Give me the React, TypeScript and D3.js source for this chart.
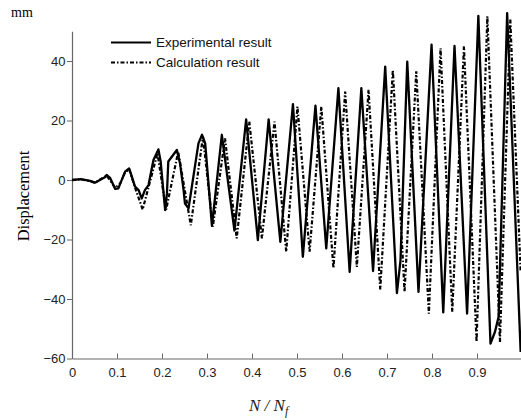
import React, { useEffect, useRef } from 'react';
import * as d3 from 'd3';

const xTickValues = [0, 0.1, 0.2, 0.3, 0.4, 0.5, 0.6, 0.7, 0.8, 0.9];
const yTickValues = [-60, -40, -20, 0, 20, 40];

// experimental curve (N/Nf, mm)
const expN = [
  0, 0.02, 0.04, 0.051, 0.073, 0.077, 0.085, 0.096, 0.103, 0.107, 0.118, 0.127, 0.133, 0.14, 0.148, 0.155,
  0.162, 0.17, 0.181, 0.192, 0.197, 0.207, 0.211, 0.214, 0.233, 0.24, 0.248, 0.251, 0.259, 0.281, 0.289,
  0.296, 0.311, 0.333, 0.361, 0.387, 0.413, 0.437, 0.463, 0.491, 0.513, 0.541, 0.565, 0.592, 0.617, 0.643,
  0.669, 0.696, 0.722, 0.73, 0.745, 0.77, 0.799, 0.825, 0.85, 0.878, 0.903, 0.93, 0.94, 0.948, 0.967, 0.997,
];
const expDisp = [
  0, 0.3, -0.3, -0.9, 0.9, 1.7, 0.6, -3, -2.8, -1.3, 2.8, 3.9, 1.1, -2.2, -3.4, -6.2,
  -3.4, -1.7, 6.7, 10.3, 6.2, -10.1, -4.5, 6.2, 10.1, 5.6, -3.4, -7.9, -9.5, 12.3, 15.2,
  12.3, -15.4, 15.2, -17, 20.4, -20.2, 20.4, -20.8, 25.5, -25.8, 25, -23, 30.9, -30.9, 30.9,
  -30.6, 38.1, -38, -27, 39.8, -37.6, 45.5, -44.5, 45.1, -44.9, 55.2, -55, -51, -46, 56.1, -57.8,
];

// calculation curve
const calcN = [
  0, 0.02, 0.04, 0.051, 0.077, 0.096, 0.107, 0.118, 0.127, 0.14, 0.157, 0.19, 0.209, 0.236, 0.264,
  0.291, 0.313, 0.34, 0.366, 0.394, 0.422, 0.45, 0.476, 0.501, 0.528, 0.554, 0.581, 0.607, 0.633, 0.659,
  0.685, 0.713, 0.739, 0.765, 0.793, 0.819, 0.845, 0.871, 0.899, 0.923, 0.951, 0.974, 0.997,
];
const calcDisp = [
  0, 0.2, -0.4, -0.9, 1.5, -2.6, -1.2, 2.6, 3.6, -2.5, -9.9, 9, -10.1, 9.5, -15.2,
  14.6, -15.7, 14, -19.6, 19.6, -19.6, 19.6, -24.1, 24.7, -24.1, 24.7, -29.7, 29.7, -29.2, 30.3,
  -36.8, 37, -37.6, 36.5, -44.9, 44.3, -44.3, 44.9, -54.4, 55, -54.4, 53.9, -31,
];

const legendLabels = ['Experimental result', 'Calculation result'];

const W = 521;
const H = 420;
const DASH = '4,2,1.5,2';
const SANS = '"Liberation Sans", Arial, sans-serif';
const SERIF = '"Liberation Serif", "Times New Roman", serif';

export default function App() {
  const svgRef = useRef<SVGSVGElement>(null);

  useEffect(() => {
    const svg = d3.select(svgRef.current);
    svg.selectAll('*').remove();

    const x = d3.scaleLinear().domain([0, 1]).range([72, 522]);
    const y = d3.scaleLinear().domain([-60, 50]).range([358.5, 31.25]);

    // axes
    const gx = svg
      .append('g')
      .attr('transform', `translate(0,${y(-60)})`)
      .call(
        d3.axisBottom(x).tickValues(xTickValues).tickFormat(d3.format('')).tickSizeInner(-5).tickSizeOuter(0).tickPadding(9)
      );
    const gy = svg
      .append('g')
      .attr('transform', `translate(${x(0)},0)`)
      .call(d3.axisLeft(y).tickValues(yTickValues).tickSizeInner(5).tickSizeOuter(0).tickPadding(1.5));

    [gx, gy].forEach((g) => {
      g.select('.domain').attr('stroke', '#666').attr('stroke-width', 1.2);
      g.selectAll('.tick line').attr('stroke', '#666').attr('stroke-width', 1);
      g.selectAll('.tick text').attr('fill', '#222').attr('font-family', SANS).attr('font-size', 13);
    });

    const expLine = d3
      .line<number>()
      .x((d) => x(d))
      .y((_, i) => y(expDisp[i]));
    const calcLine = d3
      .line<number>()
      .x((d) => x(d))
      .y((_, i) => y(calcDisp[i]));

    svg
      .append('path')
      .attr('d', calcLine(calcN))
      .attr('fill', 'none')
      .attr('stroke', '#000')
      .attr('stroke-width', 2.2)
      .attr('stroke-dasharray', DASH);

    svg
      .append('path')
      .attr('d', expLine(expN))
      .attr('fill', 'none')
      .attr('stroke', '#000')
      .attr('stroke-width', 2.3)
      .attr('stroke-linejoin', 'round');

    // legend
    const lg = svg.append('g');
    legendLabels.forEach((label, i) => {
      const ly = 42.5 + i * 20;
      lg.append('line')
        .attr('x1', 111)
        .attr('x2', 151)
        .attr('y1', ly)
        .attr('y2', ly)
        .attr('stroke', '#000')
        .attr('stroke-width', 2)
        .attr('stroke-dasharray', i === 0 ? null : DASH);
      lg.append('text')
        .attr('x', 156)
        .attr('y', ly + 4.7)
        .attr('font-family', SANS)
        .attr('font-size', 13.5)
        .attr('fill', '#111')
        .text(label);
    });

    // titles
    svg.append('text').attr('x', 11).attr('y', 17).attr('font-family', SERIF).attr('font-size', 14).text('mm');

    svg
      .append('text')
      .attr('transform', `translate(29,196) rotate(-90)`)
      .attr('text-anchor', 'middle')
      .attr('font-family', SERIF)
      .attr('font-size', 16.5)
      .text('Displacement');

    const xl = svg
      .append('text')
      .attr('x', 249)
      .attr('y', 411)
      .attr('font-family', SERIF)
      .attr('font-size', 17)
      .attr('font-style', 'italic')
      .attr('fill', '#222');
    xl.append('tspan').text('N / N');
    xl.append('tspan').attr('font-size', 12).attr('dy', 4).text('f');
  }, []);

  return (
    <div style={{ position: 'absolute', left: 0, top: 0 }}>
      <svg ref={svgRef} width={W} height={H} style={{ display: 'block', background: '#fff' }} />
    </div>
  );
}
